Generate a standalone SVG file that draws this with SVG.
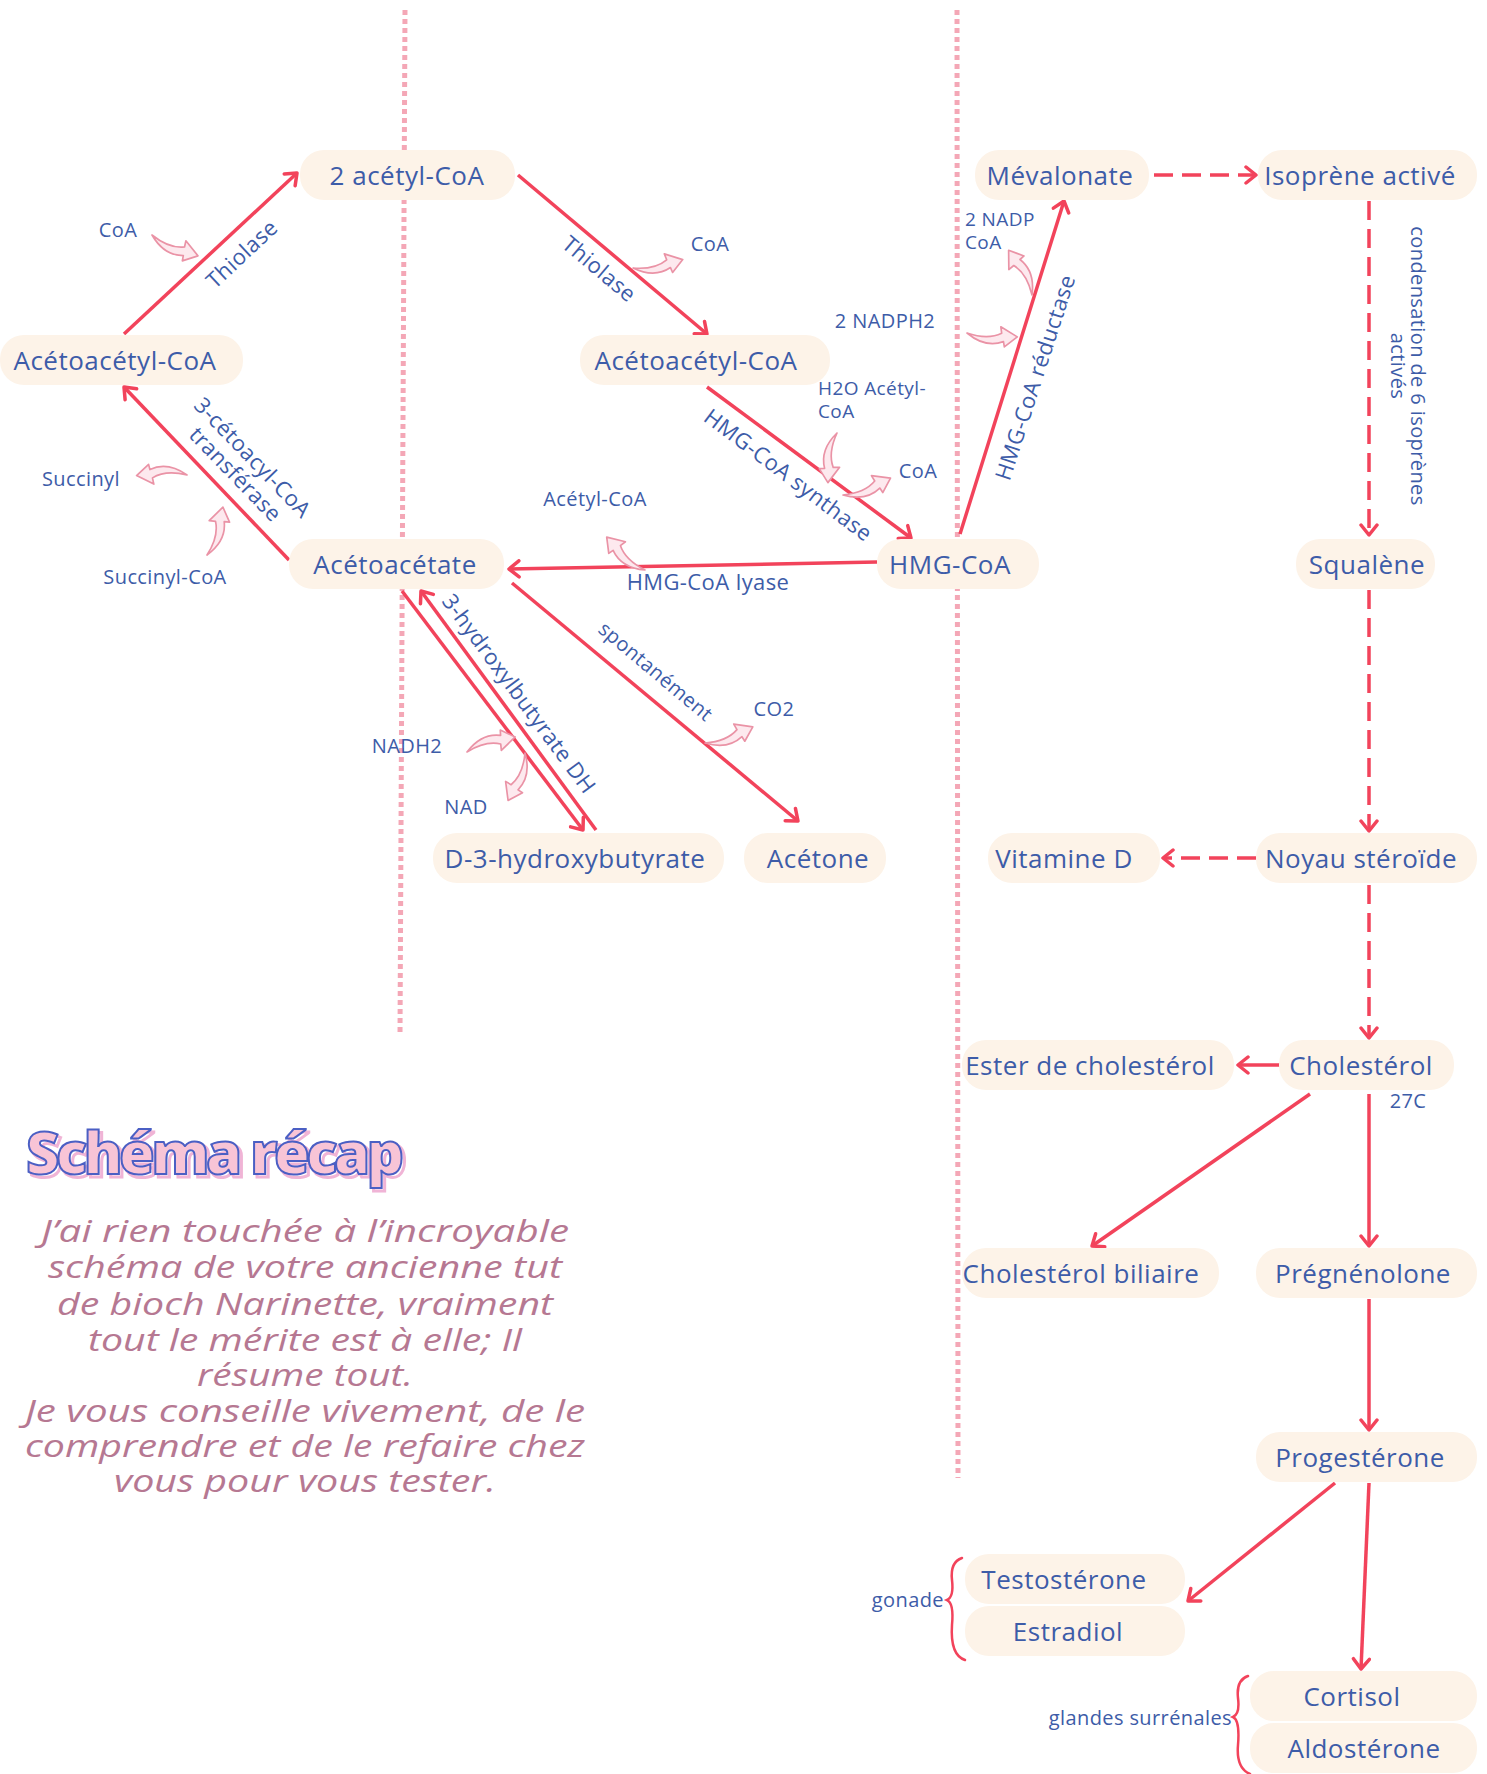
<svg xmlns="http://www.w3.org/2000/svg" xmlns:xlink="http://www.w3.org/1999/xlink" width="1487" height="1774" viewBox="0 0 1487 1774">
<style>
  .node rect { fill: #fdf3e8; }
  .nt { font-family: "Open Sans", "Noto Sans", "Liberation Sans", sans-serif; font-size: 26px; fill: #3d5ca8; text-anchor: middle; dominant-baseline: central; letter-spacing: 0.5px; }
  .lb { font-family: "Open Sans", "Noto Sans", "Liberation Sans", sans-serif; font-size: 20px; fill: #3d5ca8; dominant-baseline: central; letter-spacing: 0.4px; }
  .sm { font-size: 19px; }
  .rl { font-family: "Open Sans", "Noto Sans", "Liberation Sans", sans-serif; font-size: 22px; fill: #3d5ca8; text-anchor: middle; dominant-baseline: central; letter-spacing: 0.4px; }
  .c { text-anchor: middle; }
  .e { text-anchor: end; }
  .s { text-anchor: start; }
  .dot { stroke: #f4a7b6; stroke-width: 5; stroke-dasharray: 5 4; fill: none; }
  .ar { stroke: #f2435b; stroke-width: 3.5; fill: none; marker-end: url(#ah); }
  .da { stroke-dasharray: 19 9; }
  .brace { stroke: #f2435b; stroke-width: 2.5; fill: none; stroke-linecap: round; }
  .ca { fill: #fde9ee; stroke: #ea93a6; stroke-width: 1.6; stroke-linejoin: round; }
  .para { font-family: "Open Sans", "Noto Sans", "Liberation Sans", sans-serif; font-style: italic; font-size: 31px; fill: #b67892; text-anchor: middle; }
  .title { font-family: "Open Sans", "Noto Sans", "Liberation Sans", sans-serif; font-weight: 800; font-size: 58px; }
</style>
<defs>
  <marker id="ah" viewBox="-13 -10 16 20" refX="0" refY="0" markerWidth="16" markerHeight="20" markerUnits="userSpaceOnUse" orient="auto">
    <path d="M-10,-8 L0,0 L-10,8" fill="none" stroke="#f2435b" stroke-width="3.5" stroke-linecap="round" stroke-linejoin="round"/>
  </marker>
  <path id="curv" d="M0,0 Q20,6 33,-1 L32,-7 L48,2 L36,12 L35,7 Q18,14 0,0 Z"/>
</defs>

<rect width="1487" height="1774" fill="#ffffff"/>

<!-- dotted separators -->
<g id="separators">
  <line class="dot" x1="405" y1="10" x2="400" y2="1036"/>
  <line class="dot" x1="957" y1="10" x2="958" y2="1478"/>
</g>

<!-- connectors -->
<g id="connectors">
  <line class="ar" x1="124" y1="334" x2="297" y2="173"/>
  <line class="ar" x1="518" y1="175" x2="707" y2="334"/>
  <line class="ar" x1="707" y1="387" x2="911" y2="538"/>
  <line class="ar" x1="877" y1="562" x2="509" y2="569"/>
  <line class="ar" x1="289" y1="560" x2="124" y2="387"/>
  <line class="ar" x1="960" y1="534" x2="1064" y2="201"/>
  <line class="ar da" x1="1154" y1="175" x2="1256" y2="175"/>
  <line class="ar da" x1="1369" y1="201" x2="1369" y2="535"/>
  <line class="ar da" x1="1369" y1="590" x2="1369" y2="831"/>
  <line class="ar da" x1="1256" y1="858" x2="1163" y2="858"/>
  <line class="ar da" x1="1369" y1="885" x2="1369" y2="1038"/>
  <line class="ar" x1="1282" y1="1065" x2="1238" y2="1065"/>
  <line class="ar" x1="1310" y1="1094" x2="1092" y2="1246"/>
  <line class="ar" x1="1369" y1="1094" x2="1369" y2="1246"/>
  <line class="ar" x1="1369" y1="1299" x2="1369" y2="1430"/>
  <line class="ar" x1="1335" y1="1483" x2="1188" y2="1601"/>
  <line class="ar" x1="1369" y1="1483" x2="1361" y2="1669"/>
  <line class="ar" x1="402" y1="591" x2="583" y2="830"/>
  <line class="ar" x1="596" y1="830" x2="421" y2="591"/>
  <line class="ar" x1="512" y1="583" x2="798" y2="821"/>
</g>

<!-- cofactor curved arrows -->
<g id="cofactor-arrows" class="ca">
  <use xlink:href="#curv" href="#curv" transform="translate(152,235) rotate(22) scale(1.05)"/>
  <use xlink:href="#curv" href="#curv" transform="translate(633,268) rotate(-12) scale(1.05)"/>
  <use xlink:href="#curv" href="#curv" transform="translate(967,333) rotate(2) scale(1.05)"/>
  <use xlink:href="#curv" href="#curv" transform="translate(1032,295) rotate(-120) scale(1.05)"/>
  <use xlink:href="#curv" href="#curv" transform="translate(837,433) rotate(98) scale(1.05)"/>
  <use xlink:href="#curv" href="#curv" transform="translate(843,495) rotate(-22) scale(1.05)"/>
  <use xlink:href="#curv" href="#curv" transform="translate(645,570) rotate(-137) scale(1.05,-1.05)"/>
  <use xlink:href="#curv" href="#curv" transform="translate(187,475) rotate(177) scale(1.05)"/>
  <use xlink:href="#curv" href="#curv" transform="translate(207,555) rotate(-74) scale(1.05)"/>
  <use xlink:href="#curv" href="#curv" transform="translate(467,752) rotate(-15) scale(1.05,-1.05)"/>
  <use xlink:href="#curv" href="#curv" transform="translate(525,753) rotate(112) scale(1.05,-1.05)"/>
  <use xlink:href="#curv" href="#curv" transform="translate(705,743) rotate(-21) scale(1.05)"/>
</g>

<!-- nodes -->
<g id="n-2acetylcoa" class="node"><rect x="300" y="150" width="215" height="50" rx="24"/><text class="nt" x="407" y="175">2 acétyl-CoA</text></g>
<g id="n-acetoacetylcoa-1" class="node"><rect x="0" y="335" width="243" height="50" rx="24"/><text class="nt" x="115" y="360">Acétoacétyl-CoA</text></g>
<g id="n-acetoacetylcoa-2" class="node"><rect x="580" y="335" width="250" height="50" rx="24"/><text class="nt" x="696" y="360">Acétoacétyl-CoA</text></g>
<g id="n-acetoacetate" class="node"><rect x="289" y="539" width="215" height="50" rx="24"/><text class="nt" x="395" y="564">Acétoacétate</text></g>
<g id="n-hmgcoa" class="node"><rect x="877" y="539" width="162" height="50" rx="24"/><text class="nt" x="950" y="564">HMG-CoA</text></g>
<g id="n-mevalonate" class="node"><rect x="975" y="150" width="174" height="50" rx="24"/><text class="nt" x="1060" y="175">Mévalonate</text></g>
<g id="n-isoprene" class="node"><rect x="1258" y="150" width="219" height="50" rx="24"/><text class="nt" x="1360" y="175">Isoprène activé</text></g>
<g id="n-squalene" class="node"><rect x="1296" y="539" width="139" height="50" rx="24"/><text class="nt" x="1367" y="564">Squalène</text></g>
<g id="n-d3hb" class="node"><rect x="433" y="833" width="291" height="50" rx="24"/><text class="nt" x="575" y="858">D-3-hydroxybutyrate</text></g>
<g id="n-acetone" class="node"><rect x="744" y="833" width="142" height="50" rx="24"/><text class="nt" x="818" y="858">Acétone</text></g>
<g id="n-vitd" class="node"><rect x="988" y="833" width="172" height="50" rx="24"/><text class="nt" x="1064" y="858">Vitamine D</text></g>
<g id="n-noyau" class="node"><rect x="1256" y="833" width="221" height="50" rx="24"/><text class="nt" x="1361" y="858">Noyau stéroïde</text></g>
<g id="n-ester" class="node"><rect x="962" y="1040" width="272" height="50" rx="24"/><text class="nt" x="1090" y="1065">Ester de cholestérol</text></g>
<g id="n-cholesterol" class="node"><rect x="1279" y="1040" width="175" height="50" rx="24"/><text class="nt" x="1361" y="1065">Cholestérol</text></g>
<g id="n-biliaire" class="node"><rect x="962" y="1248" width="257" height="50" rx="24"/><text class="nt" x="1081" y="1273">Cholestérol biliaire</text></g>
<g id="n-pregnenolone" class="node"><rect x="1256" y="1248" width="221" height="50" rx="24"/><text class="nt" x="1363" y="1273">Prégnénolone</text></g>
<g id="n-progesterone" class="node"><rect x="1256" y="1432" width="221" height="50" rx="24"/><text class="nt" x="1360" y="1457">Progestérone</text></g>
<g id="n-testosterone" class="node"><rect x="965" y="1554" width="220" height="50" rx="24"/><text class="nt" x="1064" y="1579">Testostérone</text></g>
<g id="n-estradiol" class="node"><rect x="965" y="1606" width="220" height="50" rx="24"/><text class="nt" x="1068" y="1631">Estradiol</text></g>
<g id="n-cortisol" class="node"><rect x="1250" y="1671" width="227" height="50" rx="24"/><text class="nt" x="1352" y="1696">Cortisol</text></g>
<g id="n-aldosterone" class="node"><rect x="1250" y="1723" width="227" height="50" rx="24"/><text class="nt" x="1364" y="1748">Aldostérone</text></g>

<!-- labels -->
<g id="labels">
  <text class="lb c" x="118" y="229">CoA</text>
  <text class="rl" transform="translate(241,253) rotate(-43)">Thiolase</text>
  <text class="rl" transform="translate(600,268) rotate(40)">Thiolase</text>
  <text class="lb c" x="710" y="243">CoA</text>
  <text class="lb c" x="885" y="320">2 NADPH2</text>
  <text class="lb sm s" x="965" y="219">2 NADP</text>
  <text class="lb sm s" x="965" y="242">CoA</text>
  <text class="lb sm s" x="818" y="388">H2O Acétyl-</text>
  <text class="lb sm s" x="818" y="411">CoA</text>
  <text class="lb c" x="918" y="470">CoA</text>
  <text class="rl" transform="translate(789,474) rotate(37)">HMG-CoA synthase</text>
  <text class="rl" transform="translate(1034,377) rotate(-72)">HMG-CoA réductase</text>
  <text class="lb c" x="595" y="498">Acétyl-CoA</text>
  <text class="rl" x="708" y="581">HMG-CoA lyase</text>
  <text class="lb c" x="81" y="478">Succinyl</text>
  <text class="lb c" x="165" y="576">Succinyl-CoA</text>
  <g transform="translate(245,465) rotate(46)">
    <text class="rl" x="0" y="-12">3-cétoacyl-CoA</text>
    <text class="rl" x="0" y="12">transférase</text>
  </g>
  <text class="rl" transform="translate(520,693) rotate(53.5)">3-hydroxylbutyrate DH</text>
  <text class="lb c" x="407" y="745">NADH2</text>
  <text class="lb c" x="466" y="806">NAD</text>
  <text class="lb" transform="translate(656,671) rotate(40)" text-anchor="middle">spontanément</text>
  <text class="lb c" x="774" y="708">CO2</text>
  <g transform="translate(1409,366) rotate(90)">
    <text class="lb c" x="0" y="-9">condensation de 6 isoprènes</text>
    <text class="lb c" x="0" y="11">activés</text>
  </g>
  <text class="lb c" x="1408" y="1100">27C</text>
  <text class="lb e" x="944" y="1599">gonade</text>
  <text class="lb e" x="1232" y="1717">glandes surrénales</text>
</g>

<!-- braces -->
<g id="braces">
  <path class="brace" d="M962,1558 Q950,1562 952,1580 Q954,1597 947,1600 Q954,1603 952,1625 Q950,1655 965,1660"/>
  <path class="brace" d="M1248,1676 Q1236,1680 1238,1698 Q1240,1714 1233,1717 Q1240,1720 1238,1745 Q1236,1768 1250,1774"/>
</g>

<!-- title and note -->
<g id="title">
  <text class="title" x="29" y="1177" fill="none" stroke="#f0b4d6" stroke-width="3" textLength="378">Schéma récap</text>
  <text class="title" x="26" y="1174" fill="#f8c4d6" stroke="#4b5fc4" stroke-width="2" textLength="378">Schéma récap</text>
</g>
<g id="note">
  <text class="para" x="305" y="1242" textLength="528" lengthAdjust="spacingAndGlyphs">J’ai rien touchée à l’incroyable</text>
  <text class="para" x="305" y="1278" textLength="514" lengthAdjust="spacingAndGlyphs">schéma de votre ancienne tut</text>
  <text class="para" x="305" y="1315" textLength="496" lengthAdjust="spacingAndGlyphs">de bioch Narinette, vraiment</text>
  <text class="para" x="305" y="1351" textLength="434" lengthAdjust="spacingAndGlyphs">tout le mérite est à elle; Il</text>
  <text class="para" x="305" y="1386" textLength="216" lengthAdjust="spacingAndGlyphs">résume tout.</text>
  <text class="para" x="305" y="1422" textLength="560" lengthAdjust="spacingAndGlyphs">Je vous conseille vivement, de le</text>
  <text class="para" x="305" y="1457" textLength="560" lengthAdjust="spacingAndGlyphs">comprendre et de le refaire chez</text>
  <text class="para" x="305" y="1492" textLength="382" lengthAdjust="spacingAndGlyphs">vous pour vous tester.</text>
</g>
</svg>
